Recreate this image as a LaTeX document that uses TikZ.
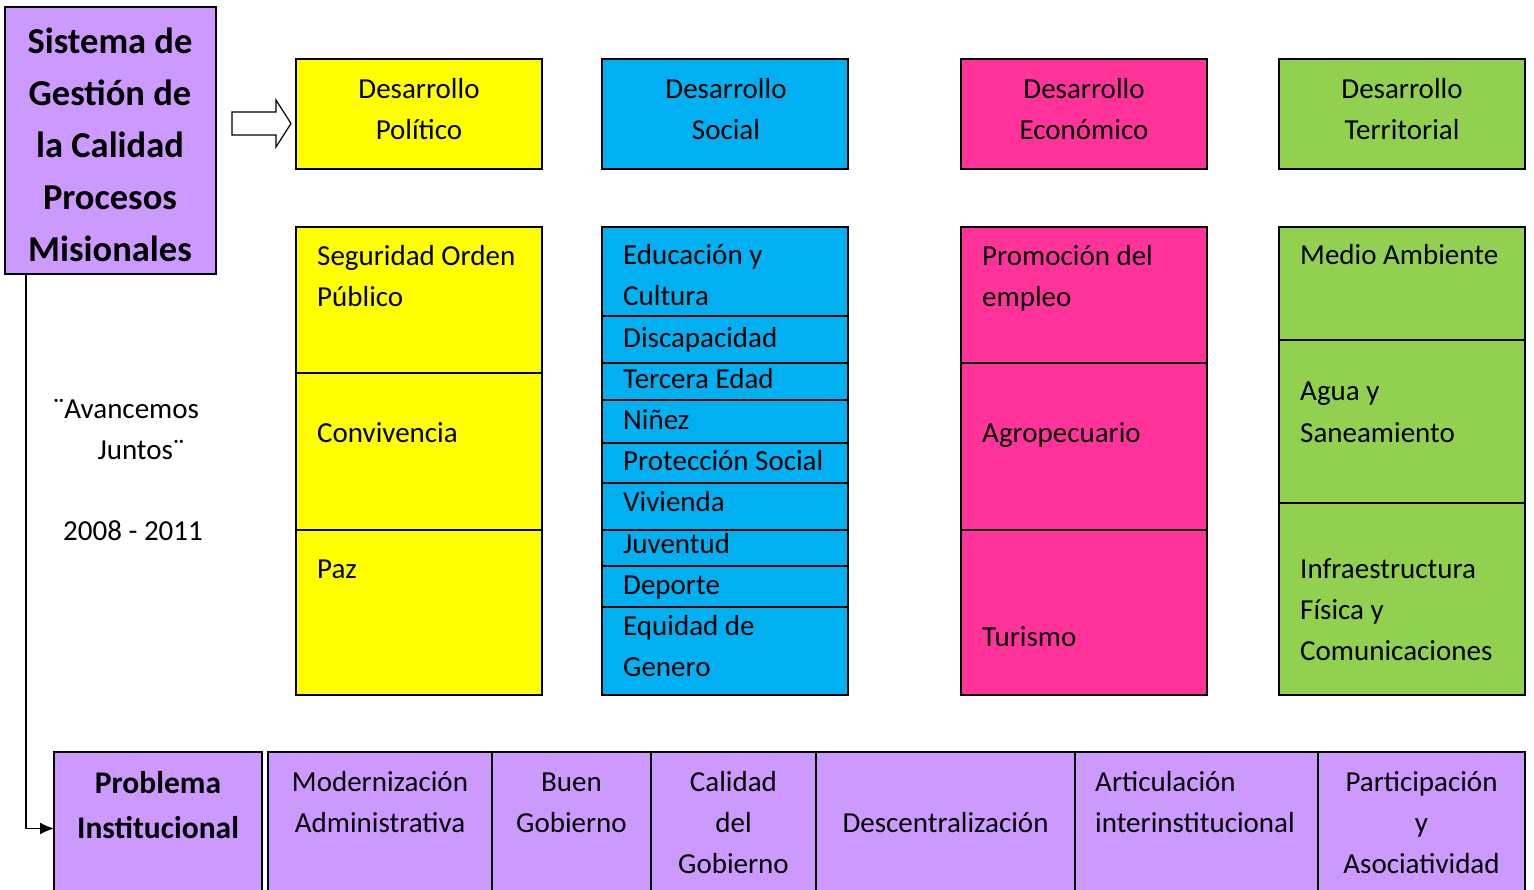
\documentclass[tikz,border=0pt]{standalone}
\usepackage{fontspec}
\setmainfont{Carlito}
\usetikzlibrary{arrows.meta}
\definecolor{cyel}{HTML}{FFFF00}
\definecolor{cblu}{HTML}{00B0F0}
\definecolor{cpnk}{HTML}{FF3399}
\definecolor{cgrn}{HTML}{92D050}
\definecolor{cpur}{HTML}{CC99FF}
\newcommand\bx[6]{\node[cellbox,fill=#2,minimum width={(#5-#3)*1pt},minimum height={(#6-#4)*1pt}] (#1) at ({(#3+#5)/2},{(#4+#6)/2}) {};}
\tikzset{
  cellbox/.style={draw=black,line width=1.6pt,inner sep=0pt,outer sep=0pt},
  body/.style={inner sep=0pt,font=\fontsize{29}{41}\selectfont},
  lt/.style={body,anchor=base west,align=left},
  ct/.style={body,anchor=base,align=center},
  ttl/.style={inner sep=0pt,anchor=base,align=center,font=\bfseries\fontsize{36.5}{52}\selectfont},
  bld/.style={inner sep=0pt,anchor=base,align=center,font=\bfseries\fontsize{31.5}{45}\selectfont},
  conn/.style={line width=1.6pt,-{Latex[length=14pt,width=12pt]}}
}
\begin{document}
\begin{tikzpicture}[x=1pt,y=-1pt]
\useasboundingbox[fill=white] (0,0) rectangle (1534,890);
% main title box
\bx{main}{cpur}{5}{7}{216}{274}
\node[ttl] (mainT) at (110,262) {Sistema de\\Gestión de\\la Calidad\\Procesos\\Misionales};
% block arrow
\draw[line width=1.2pt,fill=white] (232,112) -- (276,112) -- (276,100) -- (291,123.5) -- (276,147) -- (276,135) -- (232,135) -- cycle;
% header boxes
\bx{hY}{cyel}{296}{59}{542}{169}
\bx{hB}{cblu}{602}{59}{848}{169}
\bx{hP}{cpnk}{961}{59}{1207}{169}
\bx{hG}{cgrn}{1279}{59}{1525}{169}
\node[ct] (hYt) at (419,139.5) {Desarrollo\\Político};
\node[ct] (hBt) at (726,139.5) {Desarrollo\\Social};
\node[ct] (hPt) at (1084,139.5) {Desarrollo\\Económico};
\node[ct] (hGt) at (1402,139.5) {Desarrollo\\Territorial};
% yellow column
\bx{y1}{cyel}{296}{227}{542}{373}
\bx{y2}{cyel}{296}{373}{542}{530}
\bx{y3}{cyel}{296}{530}{542}{695}
\node[lt] (y1t) at (317,306.5) {Seguridad Orden\\Público};
\node[lt] (y2t) at (317,442) {Convivencia};
\node[lt] (y3t) at (317,578) {Paz};
% blue column
\bx{b1}{cblu}{602}{227}{848}{316}
\bx{b2}{cblu}{602}{316}{848}{363}
\bx{b3}{cblu}{602}{363}{848}{400}
\bx{b4}{cblu}{602}{400}{848}{443}
\bx{b5}{cblu}{602}{443}{848}{483}
\bx{b6}{cblu}{602}{483}{848}{530}
\bx{b7}{cblu}{602}{530}{848}{566}
\bx{b8}{cblu}{602}{566}{848}{607}
\bx{b9}{cblu}{602}{607}{848}{695}
\node[lt] (b1t) at (623,306) {Educación y\\Cultura};
\node[lt] (b2t) at (623,347.5) {Discapacidad};
\node[lt] (b3t) at (623,388.5) {Tercera Edad};
\node[lt] (b4t) at (623,429.5) {Niñez};
\node[lt] (b5t) at (623,470.5) {Protección Social};
\node[lt] (b6t) at (623,511.5) {Vivienda};
\node[lt] (b7t) at (623,553) {Juventud};
\node[lt] (b8t) at (623,594.5) {Deporte};
\node[lt] (b9t) at (623,676.5) {Equidad de\\Genero};
% pink column
\bx{p1}{cpnk}{961}{227}{1207}{363}
\bx{p2}{cpnk}{961}{363}{1207}{530}
\bx{p3}{cpnk}{961}{530}{1207}{695}
\node[lt] (p1t) at (982,306.5) {Promoción del\\empleo};
\node[lt] (p2t) at (982,442) {Agropecuario};
\node[lt] (p3t) at (982,646) {Turismo};
% green column
\bx{g1}{cgrn}{1279}{227}{1525}{340}
\bx{g2}{cgrn}{1279}{340}{1525}{503}
\bx{g3}{cgrn}{1279}{503}{1525}{695}
\node[lt] (g1t) at (1300,265) {Medio Ambiente};
\node[lt] (g2t) at (1300,442) {Agua y\\Saneamiento};
\node[lt] (g3t) at (1300,660) {Infraestructura\\Física y\\Comunicaciones};
% left text
\node[ct] (avT) at (126,459) {¨Avancemos\\\hspace*{30pt}Juntos¨};
\node[ct] (yrT) at (133,540.5) {2008 - 2011};
% bottom row
\bx{prob}{cpur}{54}{752}{262}{905}
\bx{q1}{cpur}{268}{752}{492}{905}
\bx{q2}{cpur}{492}{752}{651}{905}
\bx{q3}{cpur}{651}{752}{816}{905}
\bx{q4}{cpur}{816}{752}{1075}{905}
\bx{q5}{cpur}{1075}{752}{1318}{905}
\bx{q6}{cpur}{1318}{752}{1525}{905}
\node[bld] (probT) at (158,838) {Problema\\Institucional};
\node[ct] (q1t) at (380,832.5) {Modernización\\Administrativa};
\node[ct] (q2t) at (571.5,832.5) {Buen\\Gobierno};
\node[ct] (q3t) at (733.5,873.5) {Calidad\\del\\Gobierno};
\node[ct] (q4t) at (945.5,832.5) {Descentralización};
\node[lt] (q5t) at (1095,832.5) {Articulación\\interinstitucional};
\node[ct] (q6t) at (1421.5,873.5) {Participación\\y\\Asociatividad};
% connector
\draw[conn] ([xshift=21pt]main.south west) |- (prob.west);
\end{tikzpicture}
\end{document}
